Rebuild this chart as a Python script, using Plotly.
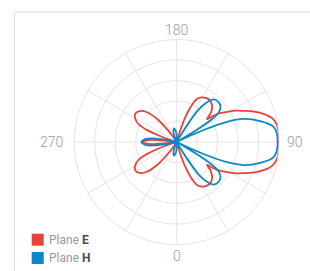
import plotly.graph_objects as go

W, H = 310, 271

series_names = ["E", "H"]
series_colors = ["#e8433a", "#0a88c8"]

theta_e = [0, 13, 15, 17, 19, 22, 25, 28, 32, 36, 40, 45, 50, 53, 54, 56, 59, 62, 65, 68,
           72, 76, 80, 85, 90, 95, 100, 104, 108, 112, 115, 118, 121, 124, 126, 127, 130,
           135, 140, 144, 148, 152, 155, 158, 161, 163, 165, 167, 212, 215, 220, 225, 230,
           235, 240, 245, 248, 250, 253, 256, 260, 263, 266, 270, 274, 277, 280, 284, 287,
           290, 292, 295, 300, 305, 310, 315, 320, 325, 328, 360]
r_e = [0.0, 0.0, 0.03, 0.13, 0.25, 0.38, 0.46, 0.49, 0.51, 0.52, 0.515, 0.49, 0.43, 0.37, 0.42,
       0.50, 0.57, 0.65, 0.72, 0.80, 0.89, 0.96, 0.99, 1.0, 1.0, 1.0, 0.99, 0.96, 0.89, 0.80,
       0.72, 0.65, 0.57, 0.50, 0.42, 0.37, 0.43, 0.49, 0.515, 0.52, 0.51, 0.49, 0.46, 0.38,
       0.25, 0.13, 0.03, 0.0, 0.0, 0.08, 0.28, 0.41, 0.47, 0.49, 0.47, 0.41, 0.31, 0.20, 0.05,
       0.0, 0.0, 0.12, 0.28, 0.335, 0.28, 0.12, 0.0, 0.0, 0.05, 0.20, 0.31, 0.41, 0.47, 0.49,
       0.47, 0.41, 0.28, 0.08, 0.0, 0.0]

theta_h = [0, 6, 28, 30, 32, 34, 37, 41, 46, 51, 55, 57, 59, 62, 64, 66, 68, 71, 76, 81, 85,
           90, 95, 99, 104, 109, 112, 114, 116, 118, 121, 123, 125, 129, 134, 139, 143, 146,
           148, 150, 152, 174, 180, 185, 191, 197, 203, 208, 255, 259, 264, 270, 276, 281,
           285, 332, 337, 343, 349, 355, 360]
r_h = [0.06, 0.0, 0.0, 0.05, 0.2, 0.38, 0.48, 0.55, 0.565, 0.55, 0.5, 0.42, 0.2, 0.0, 0.05,
       0.3, 0.52, 0.69, 0.84, 0.955, 0.98, 0.985, 0.98, 0.955, 0.84, 0.69, 0.52, 0.3, 0.05,
       0.0, 0.2, 0.42, 0.5, 0.55, 0.565, 0.55, 0.48, 0.38, 0.2, 0.05, 0.0, 0.0, 0.06, 0.11,
       0.135, 0.11, 0.05, 0.0, 0.0, 0.12, 0.30, 0.345, 0.30, 0.12, 0.0, 0.0, 0.05, 0.11, 0.135,
       0.11, 0.06]

angle_ticks = list(range(0, 360, 30))
label_angles = ["0", "90", "180", "270"]
radial_ticks = [0.2, 0.4, 0.6, 0.8, 1.0]

grid = "#e4e4e4"

fig = go.Figure()
for name, color, th, rr in [("E", series_colors[0], theta_e, r_e),
                            ("H", series_colors[1], theta_h, r_h)]:
    fig.add_trace(go.Scatterpolar(
        r=rr, theta=th, mode="lines", name="Plane " + name,
        line=dict(color=color, width=1.8, shape="spline", smoothing=0.8),
        showlegend=False, hoverinfo="skip"))

cx, cy, R = 176.7, 142.0, 102.5
fig.update_layout(
    width=W, height=H,
    margin=dict(l=0, r=0, t=0, b=0),
    paper_bgcolor="white",
    plot_bgcolor="white",
    polar=dict(
        domain=dict(x=[(cx - R) / W, (cx + R) / W], y=[1 - (cy + R) / H, 1 - (cy - R) / H]),
        bgcolor="white",
        angularaxis=dict(
            rotation=-90, direction="counterclockwise",
            tickmode="array", tickvals=angle_ticks,
            showticklabels=False,
            showgrid=True, gridcolor=grid, gridwidth=1,
            showline=True, linecolor=grid, linewidth=1,
            ticks="",
        ),
        radialaxis=dict(
            range=[0, 1], tickmode="array", tickvals=radial_ticks,
            showticklabels=False, ticks="", showline=False,
            showgrid=True, gridcolor=grid, gridwidth=1,
        ),
    ),
    font=dict(family="Roboto", color="#999999"),
)

# angular labels (0 bottom, 90 right, 180 top, 270 left)
tick_font = dict(family="Roboto", size=14, color="#9a9a9a", weight=300)
label_pos = [(cx, 256.0, "center", "middle"),
             (286.0, cy - 0.5, "left", "middle"),
             (cx, 30.0, "center", "middle"),
             (63.5, cy - 0.5, "right", "middle")]
for txt, (lx, ly, xa, ya) in zip(label_angles, label_pos):
    fig.add_annotation(xref="paper", yref="paper", x=lx / W, y=1 - ly / H,
                       xanchor=xa, yanchor=ya, showarrow=False, text=txt,
                       font=tick_font, borderpad=0)

# panel frame
fx, fy = 14.5 / W, 1 - 12.0 / H
fig.add_shape(type="line", xref="paper", yref="paper", x0=fx, x1=fx, y0=-0.05, y1=fy,
              line=dict(color="#dddddd", width=1))
fig.add_shape(type="line", xref="paper", yref="paper", x0=fx, x1=1.05, y0=fy, y1=fy,
              line=dict(color="#dddddd", width=1))

# legend
leg_y = [239.7, 258.0]
for i, (name, color) in enumerate(zip(series_names, series_colors)):
    yc = leg_y[i]
    fig.add_shape(type="rect", xref="paper", yref="paper",
                  x0=31.7 / W, x1=43.7 / W, y0=1 - (yc + 6) / H, y1=1 - (yc - 6) / H,
                  fillcolor=color, line=dict(width=0))
    fig.add_annotation(xref="paper", yref="paper", x=47.0 / W, y=1 - yc / H,
                       xanchor="left", yanchor="middle", showarrow=False,
                       text="Plane <span style='color:#4a4a4a'><b>" + name + "</b></span>",
                       font=dict(family="Roboto", size=12, color="#999999"))

fig.write_html("out.html", config={"displayModeBar": False},
               post_script="document.body.style.margin='0px';document.body.style.overflow='hidden';")
